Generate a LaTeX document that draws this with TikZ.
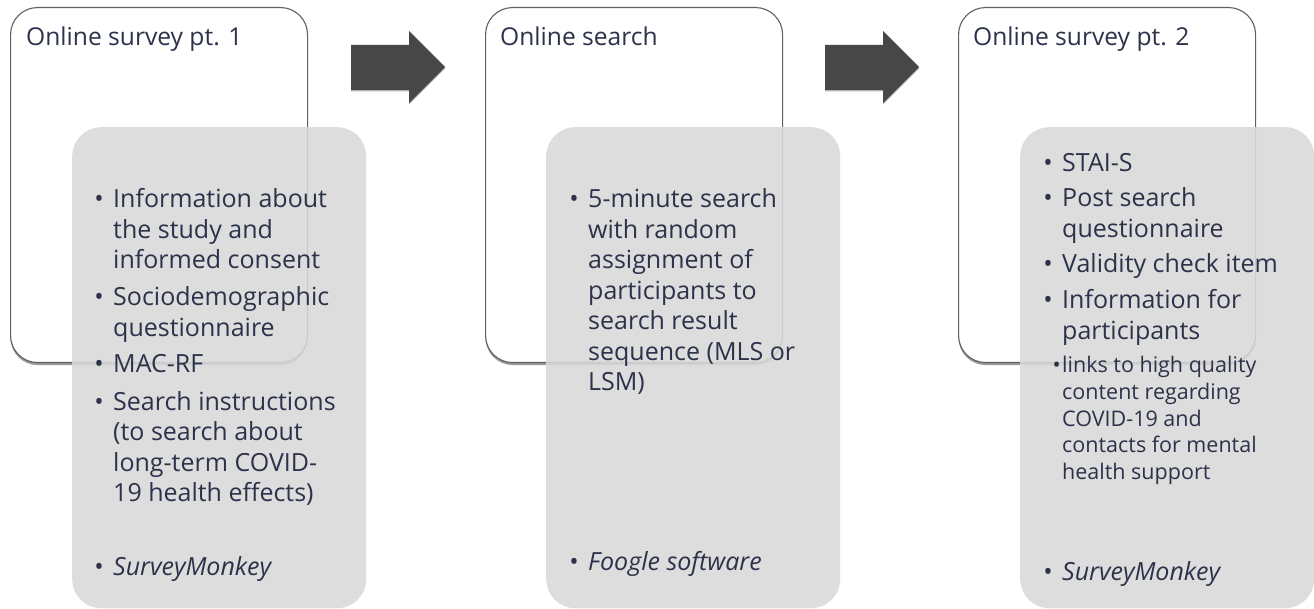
\documentclass[tikz,border=0pt]{standalone}
\usepackage{fontspec}
\setmainfont{Open Sans}
\usetikzlibrary{shadows}
\definecolor{txt}{RGB}{44,50,74}
\definecolor{graybox}{RGB}{217,217,217}
\definecolor{arrowc}{RGB}{71,71,71}
\definecolor{borderc}{RGB}{96,96,96}
\newcommand\stack[1]{\begin{tabular}[t]{@{}l@{}}#1\end{tabular}}
\newcommand\bul{\llap{\textbullet\hspace{9.5pt}}}
\newcommand\subbul{\llap{\textbullet\hspace{1.5pt}}}
\begin{document}
\begin{tikzpicture}[x=1pt,y=-1pt,
  whitebox/.style={draw=borderc, line width=1.1pt, fill=white, rounded corners=27pt,
    drop shadow={shadow xshift=0pt, shadow yshift=-2.5pt, opacity=0.4, fill=black},
    anchor=north west, minimum width=297pt, minimum height=355pt, inner sep=0pt},
  greybox/.style={fill=graybox, fill opacity=0.88, rounded corners=29pt,
    anchor=north west, minimum width=294pt, minimum height=481pt, inner sep=0pt},
  title/.style={font=\fontsize{24.6}{30}\selectfont, text=txt, anchor=base west, inner sep=0pt},
  item/.style={font=\fontsize{25}{30.5}\selectfont, text=txt, anchor=base west, inner sep=0pt},
  subitem/.style={font=\fontsize{21.5}{26.6}\selectfont, text=txt, anchor=base west, inner sep=0pt},
  bigarrow/.style={fill=arrowc, drop shadow={shadow xshift=0pt, shadow yshift=-1.5pt, opacity=0.3, fill=black}}]
\useasboundingbox (0,0) rectangle (1314,609);
\fill[white] (0,0) rectangle (1314,609);

% stage boxes
\node[whitebox] (w1) at (10,7) {};
\node[whitebox] (w2) at (485,7) {};
\node[whitebox] (w3) at (958,7) {};

\node[title] (t1) at (26,46) {Online survey pt. 1};
\node[title] (t2) at (500,46) {Online search};
\node[title] (t3) at (973,46) {Online survey pt. 2};

% arrows
\fill[bigarrow] (351,45) -- (409,45) -- (409,31) -- (445,67) -- (409,103) -- (409,90) -- (351,90) -- cycle;
\fill[bigarrow] (825,45) -- (883,45) -- (883,31) -- (919,67) -- (883,103) -- (883,90) -- (825,90) -- cycle;

% grey detail boxes
\node[greybox] (g1) at (72,127) {};
\node[greybox] (g2) at (546,127) {};
\node[greybox] (g3) at (1020,127) {};

% box 1 text
\node[item] (i1a) at (113,208) {\stack{\bul Information about\\the study and\\informed consent}};
\node[item] (i1b) at (113,306) {\stack{\bul Sociodemographic\\questionnaire}};
\node[item] (i1c) at (113,373) {\stack{\bul MAC-RF}};
\node[item] (i1d) at (113,410) {\stack{\bul Search instructions\\(to search about\\long-term COVID-\\19 health effects)}};
\node[item] (i1e) at (113,575) {\stack{\bul\textit{SurveyMonkey}}};

% box 2 text
\node[item] (i2a) at (588,208) {\stack{\bul 5-minute search\\with random\\assignment of\\participants to\\search result\\sequence (MLS or\\LSM)}};
\node[item] (i2b) at (588,570) {\stack{\bul\textit{Foogle software}}};

% box 3 text
\node[item] (i3a) at (1062,172) {\stack{\bul STAI-S}};
\node[item] (i3b) at (1062,207) {\stack{\bul Post search\\questionnaire}};
\node[item] (i3c) at (1062,273) {\stack{\bul Validity check item}};
\node[item] (i3d) at (1062,309) {\stack{\bul Information for\\participants}};
\node[subitem] (i3e) at (1062,373) {\stack{\subbul links to high quality\\content regarding\\COVID-19 and\\contacts for mental\\health support}};
\node[item] (i3f) at (1062,580) {\stack{\bul\textit{SurveyMonkey}}};
\end{tikzpicture}
\end{document}
